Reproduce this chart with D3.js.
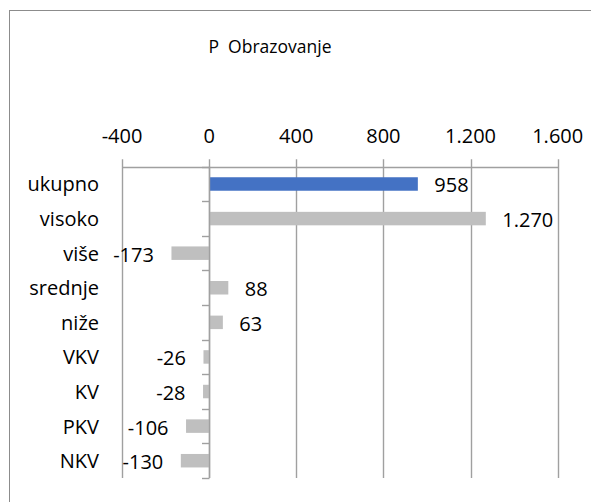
<!DOCTYPE html>
<html>
<head>
<meta charset="utf-8">
<script src="https://cdn.jsdelivr.net/npm/d3@7"></script>
<style>
  body { margin: 0; background: #fff; }
  text { font-family: "Open Sans", sans-serif; fill: #000; }
</style>
</head>
<body>
<div id="chart"></div>
<script>
const categories = ["ukupno", "visoko", "više", "srednje", "niže", "VKV", "KV", "PKV", "NKV"];
const values = [958, 1270, -173, 88, 63, -26, -28, -106, -130];
const tickValues = [-400, 0, 400, 800, 1200, 1600];
const chartTitle = "P  Obrazovanje";

const width = 591;
const height = 502;

const locale = d3.formatLocale({decimal: ",", thousands: ".", grouping: [3], currency: ["", ""], minus: "-"});
const fmt = locale.format(",d");

const svg = d3.select("#chart")
  .append("svg")
  .attr("width", width)
  .attr("height", height);

// outer chart border (right/bottom fall outside the picture)
svg.append("rect")
  .attr("x", 9.5)
  .attr("y", 10.5)
  .attr("width", 700)
  .attr("height", 700)
  .attr("fill", "none")
  .attr("stroke", "#8c8c8c")
  .attr("stroke-width", 1);

svg.append("text")
  .attr("x", 270)
  .attr("y", 53)
  .attr("text-anchor", "middle")
  .style("font-size", "17.5px")
  .style("white-space", "pre")
  .text(chartTitle);

const x = d3.scaleLinear().domain([-400, 1600]).range([122, 557.7]);
const y = d3.scaleBand()
  .domain(categories)
  .range([166.7, 478])
  .paddingInner(0.61)
  .paddingOuter(0.305);

const plotTop = 166.7, plotBottom = 478;
const gridColor = "#a0a0a0";

// vertical gridlines with small tick stubs above
svg.append("g")
  .selectAll("line")
  .data(tickValues)
  .enter()
  .append("line")
  .attr("x1", d => Math.round(x(d)) + 0.5)
  .attr("x2", d => Math.round(x(d)) + 0.5)
  .attr("y1", plotTop - 7.5)
  .attr("y2", plotBottom)
  .attr("stroke", gridColor)
  .attr("stroke-width", 1.4);

// top value axis line
svg.append("line")
  .attr("x1", Math.round(x(-400)) + 0.5)
  .attr("x2", Math.round(x(1600)) + 0.5)
  .attr("y1", Math.round(plotTop) + 0.5)
  .attr("y2", Math.round(plotTop) + 0.5)
  .attr("stroke", gridColor)
  .attr("stroke-width", 1.4);

svg.append("g")
  .selectAll("text")
  .data(tickValues)
  .enter()
  .append("text")
  .attr("x", d => x(d))
  .attr("y", 142.5)
  .attr("text-anchor", "middle")
  .style("font-size", "20px")
  .text(d => fmt(d));

// bars
svg.append("g")
  .selectAll("rect")
  .data(values)
  .enter()
  .append("rect")
  .attr("x", d => x(Math.min(0, d)))
  .attr("width", d => Math.abs(x(d) - x(0)))
  .attr("y", (d, i) => y(categories[i]))
  .attr("height", y.bandwidth())
  .attr("fill", (d, i) => i === 0 ? "#4472c4" : "#bfbfbf");

// category axis at zero with left ticks
const x0 = Math.round(x(0)) + 0.5;
svg.append("line")
  .attr("x1", x0).attr("x2", x0)
  .attr("y1", plotTop).attr("y2", plotBottom)
  .attr("stroke", gridColor)
  .attr("stroke-width", 1.4);

const step = y.step();
svg.append("g")
  .selectAll("line")
  .data(d3.range(categories.length + 1))
  .enter()
  .append("line")
  .attr("x1", x0 - 7.5)
  .attr("x2", x0)
  .attr("y1", k => Math.round(plotTop + k * step) + 0.5)
  .attr("y2", k => Math.round(plotTop + k * step) + 0.5)
  .attr("stroke", gridColor)
  .attr("stroke-width", 1.4);

// category labels
svg.append("g")
  .selectAll("text")
  .data(categories)
  .enter()
  .append("text")
  .attr("x", 99)
  .attr("y", d => y(d) + y.bandwidth() / 2 + 7.5)
  .attr("text-anchor", "end")
  .style("font-size", "20px")
  .text(d => d);

// value labels
svg.append("g")
  .selectAll("text")
  .data(values)
  .enter()
  .append("text")
  .attr("x", d => d >= 0 ? x(d) + 16.5 : x(d) - 17.5)
  .attr("y", (d, i) => y(categories[i]) + y.bandwidth() / 2 + 8.5)
  .attr("text-anchor", d => d >= 0 ? "start" : "end")
  .style("font-size", "20px")
  .text(d => fmt(d));
</script>
</body>
</html>
